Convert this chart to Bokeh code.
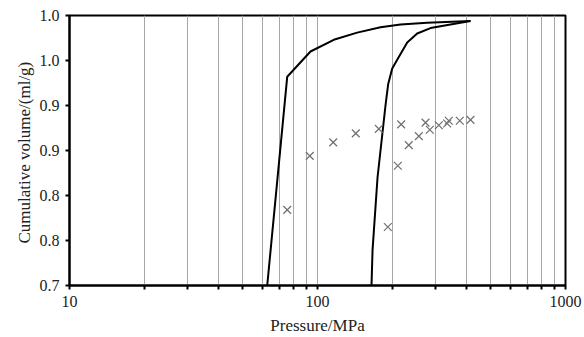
from bokeh.plotting import figure
from bokeh.models import Range1d, FixedTicker, CustomJSTickFormatter
from bokeh.embed import file_html
from bokeh.resources import INLINE

# Intrusion curve (pressure MPa, cumulative volume ml/g)
intr_p = [62.7, 75.5, 93.7, 116.3, 144.5, 179.5, 216.1, 276.9, 414.0]
intr_v = [0.700, 0.932, 0.960, 0.973, 0.981, 0.987, 0.990, 0.992, 0.994]

# Extrusion curve
extr_p = [414.0, 285.5, 252.3, 230.0, 212.7, 200.1, 192.8, 188.0, 174.6, 166.7, 165.1]
extr_v = [0.994, 0.986, 0.980, 0.970, 0.954, 0.941, 0.924, 0.900, 0.820, 0.739, 0.700]

# Scatter points
pts_p = [75.5, 93.1, 115.7, 142.7, 176.7, 217.5, 272.6, 338.4, 374.8, 414.0,
         192.1, 210.8, 233.4, 256.2, 283.7, 308.4, 333.4]
pts_v = [0.784, 0.844, 0.859, 0.869, 0.874, 0.879, 0.881, 0.883, 0.883, 0.884,
         0.765, 0.833, 0.856, 0.866, 0.873, 0.878, 0.880]

x_ticks = [10, 20, 30, 40, 50, 60, 70, 80, 90, 100, 200, 300, 400, 500, 600, 700, 800, 900, 1000]
y_ticks = [0.70, 0.75, 0.80, 0.85, 0.90, 0.95, 1.00]
y_tick_labels = ["0.7", "0.8", "0.8", "0.9", "0.9", "1.0", "1.0"]

FONT = "Liberation Serif"

p = figure(width=584, height=337, frame_width=496, frame_height=270,
           x_axis_type="log", x_range=Range1d(10, 1000), y_range=Range1d(0.7, 1.0),
           output_backend="svg", toolbar_location=None,
           min_border_left=69, min_border_right=19, min_border_top=15, min_border_bottom=52)
p.background_fill_color = "white"
p.border_fill_color = "white"
p.outline_line_color = "black"
p.outline_line_width = 2

p.xaxis.ticker = FixedTicker(ticks=x_ticks, minor_ticks=[])
p.xaxis.formatter = CustomJSTickFormatter(code="""
    const l = Math.log10(tick);
    return Math.abs(l - Math.round(l)) < 1e-6 ? tick.toFixed(0) : "";
""")
p.yaxis.ticker = FixedTicker(ticks=y_ticks, minor_ticks=[])
p.yaxis.formatter = CustomJSTickFormatter(args=dict(labels=y_tick_labels), code="""
    return labels[index];
""")

for ax in (p.xaxis[0], p.yaxis[0]):
    ax.axis_line_color = "black"
    ax.axis_line_width = 2
    ax.major_tick_line_color = "black"
    ax.major_tick_line_width = 2
    ax.major_tick_out = 4
    ax.major_tick_in = 0
    ax.minor_tick_line_color = None
    ax.major_label_text_font = FONT
    ax.major_label_text_font_size = "16px"
    ax.major_label_text_color = "#222222"
    ax.axis_label_text_font = FONT
    ax.axis_label_text_font_size = "17px"
    ax.axis_label_text_font_style = "normal"
    ax.axis_label_text_color = "#222222"

p.xaxis.axis_label = "Pressure/MPa"
p.yaxis.axis_label = "Cumulative  volume/(ml/g)"
p.xaxis.major_label_standoff = 6
p.xaxis.axis_label_standoff = 6
p.yaxis.major_label_standoff = 6
p.yaxis.axis_label_standoff = 3

p.xgrid.ticker = FixedTicker(ticks=x_ticks, minor_ticks=[])
p.xgrid.grid_line_color = "#a6a6a6"
p.xgrid.grid_line_width = 1
p.ygrid.grid_line_color = None

p.line(intr_p, intr_v, line_color="black", line_width=2)
p.line(extr_p, extr_v, line_color="black", line_width=2)
p.scatter(pts_p, pts_v, marker="x", size=11, line_color="#707070", line_width=1.2)

open("out.html", "w").write(file_html(p, INLINE))
